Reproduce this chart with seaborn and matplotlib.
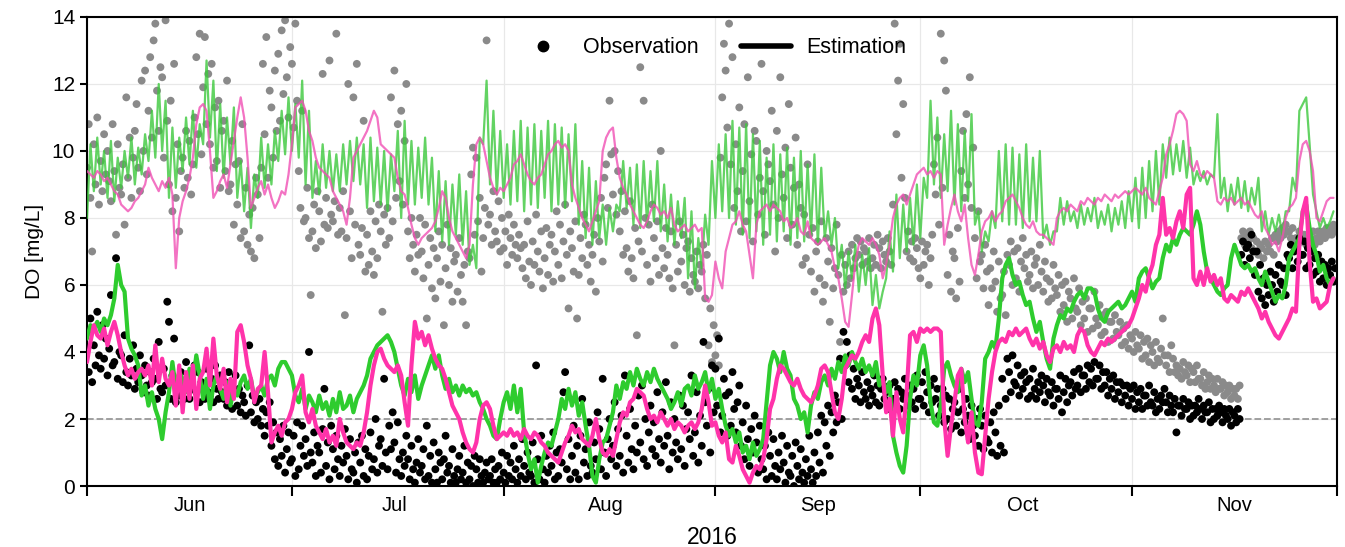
import pandas as pd
import matplotlib
matplotlib.use("Agg")
import matplotlib.pyplot as plt
import matplotlib.dates as mdates
from matplotlib.lines import Line2D
import seaborn as sns

# Observed DO, lower station (black), 4 samples per day from 2016-06-01
obs_low = [
    4.6, 3.4, 5.0, 3.1, 4.2, 3.6, 5.2, 3.9, 3.5, 4.8, 3.8, 4.4, 3.3, 4.1, 5.7, 3.6, 3.7, 6.8, 3.2, 4.0,
    3.9, 3.1, 4.5, 3.4, 3.0, 3.8, 3.3, 4.2, 2.9, 3.5, 3.1, 3.9, 3.3, 2.8, 3.6, 3.0, 2.7, 3.4, 3.1, 3.8,
    3.2, 2.6, 4.3, 2.9, 2.8, 3.5, 3.0, 5.5, 4.9, 2.6, 3.3, 4.4, 2.5, 3.0, 2.7, 3.4, 3.1, 2.6, 3.7, 2.9,
    2.6, 3.3, 2.9, 3.6, 2.8, 3.4, 2.5, 3.1, 3.0, 2.6, 3.5, 2.8, 2.7, 3.2, 2.5, 3.6, 2.9, 2.6, 3.3, 2.8,
    2.6, 3.1, 2.4, 3.4, 3.0, 2.3, 2.8, 3.3, 2.4, 2.9, 2.2, 2.7, 2.5, 2.1, 3.0, 4.2, 2.2, 2.7, 1.9, 2.5,
    2.0, 2.6, 1.8, 2.3, 1.5, 2.2, 1.8, 2.5, 1.2, 1.9, 0.8, 1.6, 0.6, 1.4, 0.9, 1.8, 0.4, 1.1, 1.6, 0.7,
    0.8, 1.5, 0.3, 1.9, 0.5, 1.2, 1.8, 0.9, 1.4, 0.6, 4.0, 1.0, 0.7, 1.6, 0.3, 1.2, 1.0, 0.4, 1.7, 2.9,
    0.6, 1.3, 0.2, 1.8, 1.1, 0.5, 1.5, 0.8, 0.3, 1.2, 0.7, 1.7, 0.9, 0.2, 1.4, 0.5, 0.4, 1.0, 0.1, 1.3,
    0.7, 1.5, 0.3, 1.1, 0.2, 0.9, 1.6, 0.5, 0.8, 2.0, 0.4, 1.2, 1.4, 0.6, 3.2, 1.0, 0.5, 1.8, 1.1, 2.2,
    1.3, 0.4, 1.9, 0.8, 0.3, 1.0, 0.6, 1.5, 0.8, 0.2, 1.2, 0.5, 0.1, 0.7, 1.4, 0.4, 0.6, 1.1, 0.2, 1.8,
    0.3, 0.9, 0.1, 1.3, 0.5, 0.1, 1.0, 0.7, 0.2, 0.8, 1.5, 0.4, 0.6, 0.1, 1.1, 0.3, 0.1, 0.5, 0.9, 0.2,
    0.4, 1.2, 0.1, 0.7, 0.2, 0.6, 0.0, 0.9, 0.5, 0.1, 0.8, 0.3, 0.1, 0.4, 0.7, 0.2, 0.3, 0.8, 0.1, 0.5,
    0.1, 0.6, 0.2, 1.0, 0.4, 0.1, 0.9, 0.3, 0.7, 0.2, 1.2, 0.5, 0.1, 0.8, 0.3, 1.4, 0.6, 0.2, 1.0, 0.4,
    0.3, 1.3, 0.1, 3.6, 0.8, 0.2, 1.5, 0.5, 0.1, 0.9, 0.4, 1.2, 0.6, 1.6, 0.2, 1.0, 0.3, 1.1, 0.7, 2.8,
    3.4, 0.5, 1.4, 0.2, 0.9, 1.8, 0.4, 1.2, 0.2, 1.5, 2.6, 0.7, 1.1, 0.3, 1.9, 0.6, 0.4, 1.3, 0.8, 2.2,
    1.7, 0.5, 3.2, 1.0, 0.3, 1.4, 2.0, 0.8, 1.2, 2.5, 0.6, 1.7, 0.9, 2.1, 0.4, 3.3, 1.5, 0.7, 2.3, 1.1,
    0.5, 1.8, 1.0, 2.7, 1.3, 3.0, 0.8, 2.0, 0.6, 1.6, 2.4, 1.1, 1.9, 0.9, 2.8, 1.4, 0.7, 2.2, 1.2, 3.1,
    1.5, 0.5, 2.5, 1.0, 2.0, 1.3, 0.8, 2.7, 1.1, 2.4, 0.6, 1.7, 2.2, 1.4, 3.3, 0.9, 1.6, 2.8, 0.7, 2.1,
    1.2, 4.3, 2.5, 1.8, 2.9, 1.0, 3.6, 2.2, 3.5, 2.4, 4.4, 1.6, 2.1, 3.2, 2.7, 1.5, 2.8, 1.8, 3.4, 2.3,
    1.6, 2.5, 3.0, 1.2, 1.9, 0.8, 2.4, 1.4, 0.6, 1.7, 1.0, 2.1, 1.3, 0.4, 1.8, 0.8, 0.5, 1.2, 0.2, 1.6,
    0.9, 0.3, 1.4, 0.6, 0.2, 1.0, 0.5, 1.5, 0.7, 0.1, 1.2, 0.4, 0.3, 0.9, 0.0, 1.3, 0.6, 0.2, 1.1, 0.4,
    0.1, 0.8, 0.3, 1.5, 0.5, 0.1, 1.0, 0.3, 1.6, 0.7, 2.1, 0.4, 1.9, 1.2, 2.4, 0.9, 2.2, 1.6, 2.7, 1.9,
    2.5, 3.8, 2.0, 4.6, 3.6, 4.3, 3.1, 3.9, 2.9, 3.5, 2.6, 3.2, 3.0, 2.5, 3.4, 2.8, 2.6, 3.1, 2.4, 2.9,
    2.7, 3.3, 2.5, 3.0, 2.4, 2.9, 3.2, 2.6, 2.8, 2.3, 3.0, 2.5, 2.6, 3.1, 2.4, 2.9, 2.3, 2.8, 2.6, 3.2,
    2.7, 2.4, 3.0, 2.5, 2.9, 2.3, 3.3, 2.6, 2.6, 3.1, 2.4, 3.4, 2.8, 2.2, 3.0, 2.5, 3.2, 2.6, 2.9, 2.1,
    2.4, 2.9, 1.9, 2.7, 2.0, 2.6, 1.7, 2.3, 2.5, 1.8, 2.2, 2.9, 1.6, 2.3, 1.9, 2.6, 2.1, 1.4, 2.4, 1.8,
    1.5, 2.0, 1.2, 2.3, 1.8, 1.1, 2.1, 1.4, 1.3, 1.9, 1.0, 2.2, 1.6, 0.9, 2.4, 1.2, 3.2, 1.0, 2.6, 3.8,
    3.4, 2.8, 3.9, 3.1, 3.0, 3.6, 2.7, 3.3, 2.9, 3.4, 3.1, 2.6, 3.2, 2.7, 3.5, 2.9, 2.6, 3.1, 2.8, 3.3,
    3.0, 2.5, 3.2, 2.8, 2.7, 3.1, 2.4, 2.9, 2.9, 2.6, 3.3, 2.2, 2.8, 3.2, 2.5, 3.0, 3.1, 2.7, 3.4, 2.9,
    3.0, 3.5, 2.8, 3.3, 3.3, 2.9, 3.6, 3.1, 3.5, 3.0, 3.7, 3.2, 3.2, 3.6, 2.9, 3.4, 3.0, 3.4, 2.7, 3.2,
    2.9, 3.3, 2.6, 3.1, 2.8, 3.1, 2.5, 3.0, 2.7, 3.0, 2.4, 2.9, 2.6, 3.0, 2.3, 2.8, 2.5, 2.9, 2.3, 2.7,
    2.7, 2.4, 3.0, 2.5, 2.4, 2.8, 2.2, 2.6, 2.3, 2.7, 2.5, 2.9, 2.5, 2.2, 2.7, 2.4, 2.2, 2.6, 1.6, 2.4,
    2.4, 2.1, 2.6, 2.3, 2.3, 2.5, 2.0, 2.4, 2.1, 2.4, 2.2, 2.6, 2.3, 2.0, 2.4, 2.2, 2.2, 2.5, 1.9, 2.3,
    2.0, 2.3, 2.1, 2.4, 2.2, 1.9, 2.3, 2.1, 2.0, 2.3, 1.8, 2.2, 2.1, 1.9, 2.3, 2.0, 6.9, 7.3, 6.6, 7.1,
    7.2, 6.8, 7.5, 7.0, 6.3, 7.0, 5.8, 6.6, 5.6, 6.2, 5.4, 6.0, 5.7, 6.4, 6.0, 5.5, 6.3, 5.8, 6.6, 6.1,
    6.0, 6.5, 5.7, 6.9, 6.8, 7.2, 6.5, 7.0, 7.1, 6.7, 7.4, 6.9, 6.9, 7.3, 6.5, 7.1, 6.6, 7.0, 6.3, 6.8,
    6.4, 6.9, 6.1, 6.7, 6.2, 6.6, 6.0, 6.5, 6.3, 6.7, 6.1, 6.5,
]

# Observed DO, upper station (gray), 4 samples per day
obs_up = [
    9.5, 10.8, 8.6, 7.0, 10.2, 9.0, 11.0, 8.4, 9.7, 8.8, 10.5, 9.3, 10.0, 9.1, 8.5, 10.8, 9.4, 7.5, 10.2, 8.9,
    8.7, 9.6, 7.8, 11.6, 9.2, 10.4, 8.6, 9.8, 10.6, 11.4, 9.5, 8.8, 12.1, 10.0, 12.4, 9.3, 11.2, 12.8, 10.4, 13.3,
    13.8, 11.8, 10.6, 12.5, 12.2, 9.8, 13.9, 10.9, 9.0, 11.5, 8.2, 12.6, 8.6, 10.2, 7.6, 9.4, 9.8, 8.9, 10.6, 9.2,
    10.3, 8.7, 9.6, 11.0, 12.8, 10.5, 13.5, 9.9, 11.9, 13.4, 10.8, 12.3, 10.2, 12.6, 9.5, 11.3, 9.7, 11.5, 8.9, 10.6,
    10.9, 9.4, 12.1, 8.8, 9.0, 10.3, 7.8, 9.6, 8.4, 9.7, 7.4, 10.8, 7.6, 8.9, 7.2, 8.1, 7.0, 8.3, 6.8, 9.2,
    8.7, 7.4, 9.5, 12.6, 10.5, 13.4, 9.2, 11.8, 11.3, 9.8, 12.4, 10.6, 12.9, 10.9, 13.6, 11.7, 13.9, 12.2, 11.0, 13.1,
    12.6, 10.7, 13.8, 11.5, 9.4, 8.3, 11.2, 7.9, 8.0, 8.9, 7.4, 5.7, 7.6, 8.4, 7.1, 8.8, 8.2, 7.3, 12.3, 7.8,
    8.6, 7.7, 12.7, 8.1, 7.9, 8.5, 13.5, 7.5, 8.3, 7.6, 8.8, 5.1, 7.4, 12.0, 8.2, 6.8, 11.6, 7.8, 12.6, 7.2,
    6.9, 7.7, 10.9, 6.4, 7.5, 6.6, 8.2, 7.0, 6.3, 7.9, 6.8, 8.4, 7.6, 5.2, 8.1, 7.2, 8.3, 7.4, 11.6, 7.9,
    12.4, 8.6, 10.8, 9.1, 11.2, 8.4, 10.3, 12.0, 7.6, 6.8, 8.0, 7.2, 6.4, 7.5, 6.9, 8.0, 7.0, 6.2, 7.8, 5.0,
    6.6, 7.4, 5.9, 7.1, 5.6, 6.8, 7.6, 6.1, 7.2, 4.8, 6.5, 7.8, 6.0, 7.1, 5.5, 6.7, 6.9, 5.8, 7.4, 6.3,
    5.5, 6.6, 4.8, 7.0, 6.8, 9.3, 10.1, 7.5, 9.8, 7.9, 8.6, 6.4, 7.4, 8.3, 13.3, 7.8, 8.1, 7.2, 8.8, 7.6,
    7.3, 8.5, 7.0, 8.0, 7.1, 7.6, 6.6, 8.1, 7.4, 6.9, 7.8, 7.2, 6.8, 7.5, 7.1, 6.5, 7.2, 6.2, 7.9, 6.7,
    6.0, 7.3, 6.6, 8.1, 7.0, 6.4, 7.6, 5.9, 6.8, 7.7, 6.3, 7.2, 7.5, 6.1, 7.0, 8.2, 6.6, 7.8, 6.2, 7.3,
    8.4, 6.9, 5.3, 7.6, 7.1, 6.4, 7.9, 5.0, 6.3, 7.4, 6.8, 8.1, 7.8, 6.6, 7.2, 6.1, 6.9, 7.5, 5.8, 8.0,
    7.3, 8.6, 6.7, 9.2, 9.6, 8.3, 11.5, 9.9, 8.7, 10.0, 8.1, 9.4, 7.6, 8.8, 6.9, 8.2, 7.1, 6.4, 8.5, 6.8,
    6.2, 7.7, 4.5, 7.3, 12.5, 7.0, 11.5, 8.0, 6.6, 7.8, 6.1, 8.4, 7.4, 6.8, 7.9, 6.3, 10.0, 7.1, 6.5, 7.7,
    6.9, 6.2, 7.6, 5.9, 4.2, 7.2, 6.4, 7.9, 6.7, 7.5, 6.0, 7.1, 7.3, 5.8, 6.8, 6.3, 6.1, 7.0, 5.9, 6.6,
    6.4, 7.2, 5.6, 6.9, 4.2, 5.3, 3.7, 4.8, 3.9, 4.5, 3.6, 9.8, 11.6, 13.2, 12.4, 10.7, 13.8, 9.6, 12.8, 8.3,
    10.2, 8.8, 11.3, 7.6, 9.4, 10.8, 7.9, 12.2, 8.5, 9.9, 7.3, 10.6, 10.3, 8.1, 9.2, 12.6, 8.8, 7.5, 10.0, 9.6,
    9.1, 11.2, 8.4, 7.0, 10.6, 8.0, 12.2, 9.3, 8.6, 10.1, 7.4, 11.4, 9.5, 7.8, 8.9, 10.4, 7.2, 9.0, 8.3, 6.6,
    8.1, 6.8, 9.6, 7.5, 6.4, 7.7, 5.8, 7.0, 7.3, 6.2, 7.9, 5.5, 6.0, 7.4, 6.7, 4.9, 7.1, 5.9, 6.5, 7.8,
    6.3, 4.3, 6.9, 5.8, 6.6, 6.0, 7.0, 6.2, 7.2, 6.5, 6.8, 7.4, 6.9, 7.3, 6.6, 7.1, 7.0, 6.7, 7.4, 6.5,
    6.8, 7.2, 6.6, 7.5, 7.1, 6.5, 7.3, 6.9, 6.7, 7.4, 7.0, 6.6, 8.4, 13.8, 10.5, 12.1, 13.2, 9.2, 11.4, 8.6,
    7.0, 7.6, 6.8, 7.3, 6.7, 7.4, 7.1, 6.5, 6.2, 7.3, 6.6, 7.0, 7.2, 6.0, 6.8, 7.5, 9.6, 8.7, 10.4, 7.8,
    13.5, 8.9, 12.7, 11.8, 6.3, 7.5, 5.8, 7.0, 6.8, 5.6, 7.7, 6.1, 9.4, 10.6, 8.6, 11.1, 9.0, 12.2, 8.3, 10.1,
    7.4, 6.2, 8.2, 6.7, 6.9, 5.9, 7.2, 6.4, 5.4, 6.5, 5.9, 7.0, 6.1, 5.2, 6.7, 5.6, 5.7, 6.4, 5.1, 6.9,
    6.6, 7.3, 6.0, 7.0, 6.2, 7.1, 5.8, 6.7, 7.4, 6.5, 6.9, 6.1, 6.3, 7.0, 5.9, 6.6, 6.8, 6.0, 7.2, 6.4,
    5.8, 6.7, 6.2, 5.5, 6.1, 5.6, 6.6, 5.9, 5.7, 6.3, 5.2, 6.0, 5.4, 6.1, 4.9, 5.8, 5.6, 5.0, 6.2, 5.3,
    5.2, 5.9, 4.8, 5.5, 5.0, 5.6, 4.6, 5.3, 5.3, 4.7, 5.8, 5.0, 4.8, 5.4, 4.5, 5.1, 4.6, 5.2, 4.3, 4.9,
    4.9, 4.4, 5.1, 4.6, 4.5, 4.9, 4.2, 4.7, 4.3, 4.8, 4.1, 4.5, 4.4, 4.0, 4.6, 4.2, 4.1, 4.5, 3.8, 4.3,
    3.9, 4.4, 3.7, 4.2, 4.0, 3.6, 4.3, 3.8, 3.7, 4.1, 5.0, 3.9, 3.6, 3.9, 3.4, 4.2, 3.8, 3.4, 3.6, 3.3,
    3.5, 3.2, 3.7, 3.4, 3.3, 3.6, 3.1, 3.5, 3.4, 3.1, 3.6, 3.2, 3.2, 3.0, 3.4, 2.9, 3.1, 3.3, 2.9, 3.2,
    3.0, 2.8, 3.2, 2.9, 2.9, 3.1, 2.7, 3.0, 2.8, 3.0, 2.6, 2.9, 2.7, 2.9, 2.6, 3.0, 7.4, 7.6, 7.2, 7.5,
    7.3, 7.6, 7.1, 7.4, 7.0, 7.3, 6.9, 7.2, 7.1, 6.8, 7.3, 7.0, 7.2, 7.0, 7.4, 6.9, 7.5, 7.3, 7.6, 7.4,
    7.7, 7.5, 7.8, 7.6, 7.6, 7.4, 7.7, 7.3, 7.4, 7.2, 7.6, 7.3, 7.3, 7.5, 7.2, 7.4, 7.5, 7.3, 7.6, 7.2,
    7.4, 7.6, 7.3, 7.5, 7.6, 7.4, 7.7, 7.5, 7.7, 7.5, 7.8, 7.6,
]

# Estimated DO, lower station, 2 values per day
est_low_green = [
    4.4, 4.8, 4.7, 4.9, 4.6, 5.0, 4.8, 5.1, 5.6, 6.6, 6.0, 5.8, 4.4, 4.1, 3.9, 3.6, 2.7, 3.0, 2.4, 2.8,
    2.3, 2.0, 1.4, 2.2, 2.8, 3.7, 2.9, 3.4, 3.2, 2.8, 3.5, 3.1, 3.9, 3.3, 2.6, 3.2, 2.3, 3.0, 3.3, 2.9,
    2.6, 3.1, 2.4, 2.9, 2.7, 3.1, 3.3, 2.9, 3.2, 2.6, 2.8, 3.0, 2.7, 3.2, 3.3, 3.0, 3.5, 3.7, 3.7, 3.5,
    3.3, 2.7, 2.5, 2.9, 2.3, 2.7, 2.5, 2.2, 2.7, 2.3, 2.5, 2.1, 2.6, 2.2, 2.8, 2.3, 2.4, 2.7, 2.2, 2.6,
    2.8, 3.0, 3.3, 3.8, 4.0, 4.2, 4.3, 4.4, 4.5, 4.3, 4.0, 3.5, 3.0, 2.7, 3.2, 2.8, 3.3, 2.6, 3.0, 3.3,
    3.6, 3.9, 3.5, 3.9, 3.3, 2.9, 3.2, 2.8, 3.0, 2.7, 3.0, 2.8, 2.9, 2.7, 2.8, 2.5, 2.3, 2.0, 1.8, 1.5,
    1.4, 2.0, 2.5, 2.8, 2.3, 3.0, 2.2, 2.9, 1.6, 1.0, 0.5, 0.8, 0.1, 0.6, 1.0, 1.3, 1.2, 1.6, 2.0, 2.6,
    2.3, 2.9, 2.4, 2.8, 2.1, 2.5, 1.8, 1.2, 0.3, 0.1, 0.8, 1.3, 1.4, 1.8, 2.2, 3.0, 2.6, 3.1, 2.9, 3.4,
    3.0, 3.5, 3.2, 3.0, 3.4, 3.1, 3.5, 3.2, 3.0, 2.8, 2.6, 2.3, 2.5, 2.8, 2.4, 2.9, 3.0, 2.7, 3.3, 2.9,
    3.1, 3.4, 2.8, 3.2, 2.6, 2.9, 2.3, 1.8, 1.5, 1.7, 1.3, 1.6, 1.0, 1.2, 0.8, 1.3, 0.9, 1.1, 1.4, 2.5,
    3.6, 4.0, 3.8, 3.4, 4.0, 3.5, 3.3, 2.6, 2.4, 2.0, 2.2, 1.6, 2.4, 2.8, 2.6, 3.1, 3.3, 3.0, 3.5, 3.2,
    3.7, 3.4, 3.9, 3.6, 4.0, 3.7, 3.5, 3.8, 3.4, 3.6, 3.3, 3.7, 3.0, 3.2, 2.8, 3.1, 1.5, 1.0, 0.6, 0.4,
    1.2, 2.6, 3.3, 3.0, 3.9, 4.2, 3.6, 2.5, 1.9, 1.8, 2.4, 3.5, 3.7, 3.3, 3.0, 2.8, 3.5, 3.1, 3.4, 2.6,
    1.9, 1.8, 2.5, 3.8, 4.0, 4.3, 4.1, 5.0, 6.2, 6.6, 6.8, 6.3, 6.0, 6.1, 5.7, 5.4, 5.5, 5.0, 4.6, 4.9,
    4.3, 3.8, 3.5, 4.4, 4.8, 5.1, 5.0, 5.3, 5.2, 5.5, 5.7, 5.8, 5.6, 5.9, 5.9, 5.8, 5.3, 5.0, 4.9, 5.2,
    5.3, 5.4, 5.5, 5.3, 5.4, 5.6, 5.8, 5.5, 6.2, 6.4, 6.5, 6.2, 5.9, 6.1, 6.2, 6.8, 7.2, 7.0, 7.4, 7.2,
    7.5, 7.7, 7.6, 7.5, 7.8, 8.2, 7.8, 7.0, 6.4, 6.2, 6.0, 5.8, 5.7, 5.9, 6.0, 6.8, 7.2, 6.9, 6.6, 6.5,
    6.6, 6.4, 6.5, 6.2, 6.0, 6.4, 6.1, 5.8, 5.5, 5.7, 5.6, 6.0, 6.8, 7.0, 7.2, 7.4, 8.2, 8.4, 7.7, 7.2,
    6.9, 6.4, 6.6, 6.2, 6.0, 6.2,
]

est_low_pink = [
    3.7, 4.3, 4.8, 4.5, 4.4, 4.7, 4.2, 4.6, 4.9, 4.5, 4.0, 3.6, 3.3, 3.5, 3.2, 3.4, 3.5, 3.3, 3.6, 3.0,
    4.2, 3.1, 3.8, 3.2, 3.0, 3.4, 2.4, 3.6, 2.2, 3.4, 2.6, 3.6, 2.3, 3.2, 3.4, 4.1, 3.0, 4.4, 3.3, 2.9,
    3.5, 2.5, 3.2, 2.6, 4.6, 4.8, 4.3, 3.6, 3.2, 2.5, 2.9, 3.0, 4.0, 2.8, 1.3, 1.6, 1.8, 1.5, 1.9, 2.0,
    2.3, 2.8, 3.0, 3.3, 2.2, 1.9, 2.3, 1.8, 1.6, 1.4, 1.7, 1.3, 1.5, 1.2, 2.0, 1.6, 1.3, 1.2, 1.1, 1.3,
    1.2, 1.6, 2.2, 3.0, 3.6, 4.0, 4.1, 3.8, 3.6, 3.5, 3.4, 3.6, 3.3, 2.5, 1.8, 3.6, 4.9, 4.4, 4.6, 4.2,
    4.5, 4.1, 3.8, 3.6, 3.5, 3.2, 2.8, 2.4, 2.2, 2.0, 1.6, 1.3, 1.1, 1.0, 1.3, 2.0, 2.4, 2.5, 2.3, 1.8,
    1.4, 1.5, 1.6, 1.5, 1.7, 1.5, 1.6, 1.4, 1.7, 1.5, 1.4, 1.6, 1.5, 1.3, 1.2, 1.0, 0.9, 0.8, 0.7, 1.0,
    1.3, 1.5, 1.8, 1.6, 1.7, 1.4, 1.3, 1.2, 1.5, 2.0, 1.4, 1.0, 0.9, 1.1, 0.9, 1.4, 1.9, 2.2, 2.1, 2.5,
    2.6, 2.9, 2.8, 2.7, 2.3, 2.0, 2.1, 1.9, 2.2, 2.0, 1.8, 2.0, 1.7, 1.9, 1.8, 1.6, 1.8, 1.9, 1.7, 1.9,
    2.3, 3.0, 2.5, 1.8, 1.9, 1.5, 1.3, 1.6, 0.8, 0.7, 1.2, 0.9, 0.5, 0.3, 0.1, 0.4, 0.6, 0.5, 0.8, 1.4,
    2.3, 2.6, 3.2, 3.6, 3.5, 3.3, 3.1, 3.0, 3.2, 2.9, 2.7, 2.6, 2.5, 2.7, 3.0, 3.5, 3.6, 3.4, 2.8, 2.2,
    2.0, 2.6, 3.5, 3.7, 3.9, 3.8, 4.0, 4.3, 4.5, 4.3, 5.0, 5.3, 4.8, 3.3, 2.2, 2.6, 1.5, 2.8, 2.0, 1.6,
    2.8, 4.5, 4.6, 4.3, 4.7, 4.6, 4.7, 4.6, 4.7, 4.7, 4.6, 2.0, 0.9, 1.8, 2.5, 3.3, 3.5, 2.0, 1.3, 2.2,
    1.0, 0.4, 0.35, 1.5, 2.6, 3.4, 4.0, 4.3, 4.4, 4.3, 4.6, 4.5, 4.7, 4.5, 4.6, 4.7, 4.4, 4.2, 4.4, 4.1,
    4.3, 3.9, 3.7, 4.1, 4.2, 4.0, 4.3, 4.1, 4.2, 4.0, 4.5, 4.7, 4.6, 4.2, 4.0, 3.9, 4.1, 4.3, 4.2, 4.4,
    4.3, 4.4, 4.5, 4.6, 4.7, 4.8, 5.0, 5.3, 5.6, 6.0, 5.8, 6.3, 6.6, 7.2, 7.5, 8.6, 7.5, 7.7, 7.4, 7.9,
    8.2, 7.7, 8.7, 8.9, 6.2, 6.0, 6.4, 6.0, 6.5, 6.1, 6.3, 6.0, 6.2, 5.6, 5.5, 5.7, 5.6, 5.5, 5.8, 5.7,
    5.9, 5.7, 5.5, 5.3, 5.0, 5.2, 4.9, 4.7, 4.5, 4.4, 4.6, 4.8, 5.0, 5.3, 5.2, 7.2, 8.2, 8.6, 6.7, 5.5,
    5.6, 5.3, 5.4, 5.5, 6.0, 6.2,
]

# Estimated DO, upper station, 2 values per day
est_up_green = [
    8.0, 10.2, 8.8, 10.4, 9.0, 10.0, 8.6, 10.3, 8.5, 9.8, 8.9, 10.0, 9.2, 10.4, 9.0, 10.1, 9.3, 10.5, 9.7, 11.2,
    9.8, 12.0, 10.0, 11.5, 8.6, 10.7, 8.9, 10.4, 9.4, 11.0, 9.6, 11.2, 9.5, 10.8, 10.2, 12.7, 10.4, 12.1, 9.4, 11.4,
    9.2, 11.0, 9.6, 11.3, 8.6, 9.7, 8.2, 9.5, 7.7, 9.3, 8.6, 10.4, 8.9, 10.2, 9.0, 10.6, 9.7, 11.2, 9.9, 11.6,
    10.0, 11.4, 9.8, 12.1, 9.0, 11.2, 8.6, 9.7, 8.7, 10.2, 8.9, 10.0, 8.8, 9.9, 8.8, 10.2, 9.0, 10.3, 9.1, 10.4,
    9.0, 10.2, 8.3, 10.4, 8.5, 10.1, 8.4, 10.0, 8.2, 9.9, 8.8, 10.6, 8.0, 10.9, 8.4, 10.3, 8.4, 10.1, 8.6, 10.4,
    8.4, 9.8, 7.6, 9.4, 7.3, 9.1, 7.2, 9.0, 7.5, 9.3, 7.2, 8.8, 6.6, 7.2, 6.5, 10.4, 10.2, 12.1, 9.0, 11.2,
    8.7, 10.6, 8.6, 10.2, 8.4, 10.6, 8.5, 10.9, 8.2, 10.7, 8.4, 10.8, 8.3, 10.6, 8.6, 10.9, 8.2, 10.8, 8.4, 10.7,
    8.3, 10.5, 8.5, 10.8, 7.8, 9.7, 7.4, 9.5, 7.2, 9.1, 7.4, 8.4, 7.2, 8.3, 7.6, 8.4, 8.2, 9.7, 8.3, 9.5,
    7.8, 9.6, 7.7, 9.7, 7.8, 9.4, 7.9, 9.7, 7.6, 9.0, 7.3, 8.7, 7.2, 8.5, 7.4, 8.6, 6.2, 8.2, 5.9, 7.4,
    6.5, 8.1, 7.2, 9.7, 8.0, 10.2, 8.2, 10.5, 8.0, 10.9, 7.8, 10.7, 7.5, 10.8, 7.4, 10.5, 7.6, 10.3, 7.2, 9.8,
    7.5, 10.2, 7.3, 9.9, 7.6, 10.1, 7.2, 9.8, 7.4, 10.0, 7.3, 9.6, 7.5, 9.9, 7.2, 9.5, 7.4, 8.2, 7.2, 8.0,
    6.5, 7.2, 5.9, 7.0, 6.2, 7.2, 5.8, 6.9, 6.0, 7.1, 5.4, 6.3, 5.3, 5.8, 6.2, 7.6, 6.4, 8.7, 6.8, 8.4,
    7.0, 8.6, 7.2, 9.0, 7.4, 9.2, 8.6, 11.5, 9.0, 11.0, 8.6, 10.5, 8.8, 11.2, 8.4, 10.8, 8.2, 10.6, 8.5, 11.1,
    7.8, 8.2, 7.0, 7.6, 7.3, 8.2, 7.7, 10.0, 7.9, 10.2, 7.8, 10.1, 7.8, 9.9, 7.7, 10.2, 7.9, 9.8, 7.9, 10.0,
    7.4, 7.8, 7.2, 7.6, 7.6, 8.6, 7.8, 8.5, 7.9, 8.2, 7.7, 8.4, 7.8, 8.3, 7.9, 8.6, 7.7, 8.2, 7.8, 8.4,
    7.6, 8.3, 7.8, 8.5, 7.7, 8.8, 7.9, 9.2, 7.7, 9.5, 8.0, 9.7, 8.2, 10.0, 8.4, 10.2, 9.2, 10.4, 9.3, 10.2,
    9.4, 10.3, 9.2, 10.1, 9.0, 9.4, 9.1, 9.4, 9.0, 9.3, 9.2, 11.1, 8.6, 9.2, 8.2, 9.0, 8.4, 9.2, 8.3, 9.1,
    8.2, 8.9, 8.4, 9.2, 7.6, 8.2, 7.5, 8.0, 7.6, 8.1, 7.5, 8.2, 8.2, 9.2, 8.8, 11.2, 11.4, 11.6, 10.2, 8.7,
    8.2, 7.7, 8.0, 7.7, 7.9, 8.2,
]

est_up_pink = [
    9.4, 9.3, 9.2, 9.4, 9.3, 9.1, 9.2, 9.0, 8.8, 8.7, 8.4, 8.3, 8.2, 8.3, 8.5, 8.6, 8.8, 9.0, 9.5, 9.2,
    9.0, 8.8, 9.1, 8.9, 9.2, 8.7, 6.5, 8.0, 8.5, 8.8, 9.2, 9.8, 10.8, 11.3, 11.4, 11.2, 10.0, 8.6, 8.8, 9.1,
    9.3, 8.9, 9.6, 10.3, 11.0, 11.6, 11.0, 9.8, 8.3, 8.6, 8.9, 9.1, 8.7, 9.0, 8.6, 8.3, 8.5, 8.8, 8.7, 9.3,
    10.2, 11.3, 11.4, 11.5, 11.2, 10.6, 10.3, 9.8, 9.5, 9.4, 9.3, 9.2, 8.8, 8.6, 8.4, 8.2, 7.8, 8.6, 9.8, 10.0,
    10.2, 10.4, 10.6, 10.9, 11.2, 11.0, 10.2, 10.1, 10.0, 9.9, 9.8, 9.2, 8.8, 8.7, 8.3, 7.8, 7.4, 7.2, 7.4, 7.5,
    7.6, 7.7, 7.9, 8.3, 8.8, 8.6, 8.0, 7.6, 7.4, 7.2, 7.0, 6.8, 7.2, 9.0, 10.2, 10.4, 10.2, 9.7, 9.2, 8.9,
    8.7, 8.9, 8.8, 9.0, 9.2, 9.6, 9.7, 9.9, 9.6, 9.3, 9.1, 9.0, 9.2, 9.3, 9.6, 9.9, 10.0, 10.2, 10.3, 10.1,
    10.2, 10.0, 9.0, 8.6, 8.3, 8.0, 7.8, 7.6, 7.9, 8.2, 8.5, 10.0, 10.4, 10.6, 10.7, 9.8, 9.2, 8.9, 8.7, 8.4,
    8.2, 8.0, 7.8, 7.7, 7.9, 8.2, 8.4, 8.3, 8.1, 8.2, 8.0, 8.3, 7.8, 7.6, 7.7, 7.8, 7.6, 7.7, 7.8, 7.6,
    7.7, 5.6, 5.5, 5.7, 6.7, 6.2, 5.9, 7.0, 7.4, 7.8, 7.9, 8.2, 7.8, 7.6, 6.9, 6.2, 7.8, 8.2, 8.3, 8.4,
    8.2, 8.4, 8.3, 8.2, 7.9, 8.0, 7.7, 7.8, 8.0, 7.6, 7.5, 7.9, 7.4, 7.3, 7.2, 7.3, 7.4, 7.2, 7.0, 6.5,
    6.2, 5.6, 4.9, 4.75, 5.7, 6.7, 7.2, 7.4, 7.3, 7.2, 7.4, 7.2, 6.9, 6.2, 6.6, 7.2, 8.0, 8.4, 8.6, 8.7,
    8.4, 8.7, 9.0, 9.3, 9.4, 9.5, 9.3, 9.4, 9.2, 9.4, 9.3, 7.2, 7.8, 8.3, 8.7, 8.2, 7.9, 8.4, 7.4, 6.6,
    6.3, 6.9, 7.6, 7.9, 8.0, 8.2, 7.9, 8.1, 8.2, 8.5, 8.6, 8.7, 8.5, 8.3, 8.0, 7.8, 7.7, 7.9, 7.6, 7.5,
    7.5, 7.4, 7.3, 7.2, 8.0, 8.2, 8.3, 8.2, 8.4, 8.3, 8.2, 8.5, 8.4, 8.6, 8.5, 8.4, 8.6, 8.5, 8.7, 8.6,
    8.5, 8.7, 8.6, 8.7, 8.8, 8.7, 8.8, 8.9, 8.8, 8.7, 8.9, 8.6, 8.5, 8.4, 8.8, 9.2, 9.9, 10.2, 10.6, 11.1,
    11.2, 11.1, 10.9, 9.6, 9.4, 9.7, 9.3, 9.2, 9.4, 9.3, 9.2, 8.5, 8.4, 8.6, 8.5, 8.6, 8.4, 8.5, 8.6, 8.4,
    8.5, 8.3, 8.1, 8.0, 8.2, 7.7, 7.5, 7.2, 7.3, 7.0, 7.4, 8.0, 8.3, 8.4, 8.6, 9.7, 10.2, 10.3, 10.0, 9.4,
    8.0, 7.9, 8.2, 8.5, 8.6, 8.6,
]

month_labels = ["Jun", "Jul", "Aug", "Sep", "Oct", "Nov"]

start = pd.Timestamp("2016-06-01")
obs_df = pd.concat([
    pd.DataFrame({"time": pd.date_range(start, periods=len(obs_up), freq="6h"), "DO": obs_up, "site": "up"}),
    pd.DataFrame({"time": pd.date_range(start, periods=len(obs_low), freq="6h"), "DO": obs_low, "site": "low"}),
])
est = {
    "up_green": est_up_green, "up_pink": est_up_pink,
    "low_green": est_low_green, "low_pink": est_low_pink,
}
est_df = pd.concat([
    pd.DataFrame({"time": pd.date_range(start, periods=len(v), freq="12h"), "DO": v, "series": k})
    for k, v in est.items()
])

sns.set_style("ticks")
plt.rcParams["font.family"] = ["Liberation Sans", "DejaVu Sans"]
plt.rcParams["text.color"] = "black"
plt.rcParams["axes.labelcolor"] = "black"
plt.rcParams["xtick.color"] = "black"
plt.rcParams["ytick.color"] = "black"

fig = plt.figure(figsize=(13.45, 5.47), dpi=100)
ax = fig.add_axes([0.0647, 0.1115, 0.9293, 0.8575])

ax.grid(True, color="#e8e8e8", linewidth=0.9, zorder=0)
ax.set_axisbelow(True)

sns.scatterplot(data=obs_df, x="time", y="DO", hue="site",
                palette={"up": "#8a8a8a", "low": "black"}, s=32, linewidth=0,
                legend=False, ax=ax, zorder=2)

thin = est_df[est_df["series"].str.startswith("up")]
thick = est_df[est_df["series"].str.startswith("low")]
sns.lineplot(data=thin, x="time", y="DO", hue="series",
             palette={"up_green": "#3cc83c", "up_pink": "#f050b4"},
             linewidth=1.6, alpha=0.8, legend=False, ax=ax, zorder=3)
sns.lineplot(data=thick, x="time", y="DO", hue="series",
             palette={"low_green": "#2ecc2e", "low_pink": "#ff33aa"},
             linewidth=3.0, legend=False, ax=ax, zorder=4)

ax.axhline(2, color="#999999", linestyle="--", linewidth=1.3, zorder=1)

ax.set_xlim(start, pd.Timestamp("2016-12-01"))
ax.set_ylim(0, 14)
ax.set_yticks(range(0, 15, 2))

ax.xaxis.set_major_locator(mdates.MonthLocator())
ax.xaxis.set_major_formatter(plt.NullFormatter())
ax.xaxis.set_minor_locator(mdates.MonthLocator(bymonthday=16))
ax.xaxis.set_minor_formatter(mdates.DateFormatter("%b"))
ax.tick_params(axis="x", which="major", length=7, width=1.5, direction="out")
ax.tick_params(axis="x", which="minor", length=0, labelsize=14.5, pad=7)
ax.tick_params(axis="y", length=5, width=1.5, labelsize=15)

for sp in ax.spines.values():
    sp.set_visible(True)
    sp.set_color("black")
    sp.set_linewidth(1.5)

ax.set_xlabel("2016", fontsize=16.5, labelpad=8)
ax.set_ylabel("DO [mg/L]", fontsize=15, labelpad=6)

handles = [
    Line2D([], [], marker="o", color="black", linestyle="none", markersize=7.5),
    Line2D([], [], color="black", linewidth=4),
]
ax.legend(handles, ["Observation", "Estimation"], loc="upper center", ncol=2,
          frameon=False, fontsize=15.5, handlelength=2.3, columnspacing=2.0,
          handletextpad=0.7, bbox_to_anchor=(0.5, 0.998))

fig.savefig("out.png", dpi=100)
